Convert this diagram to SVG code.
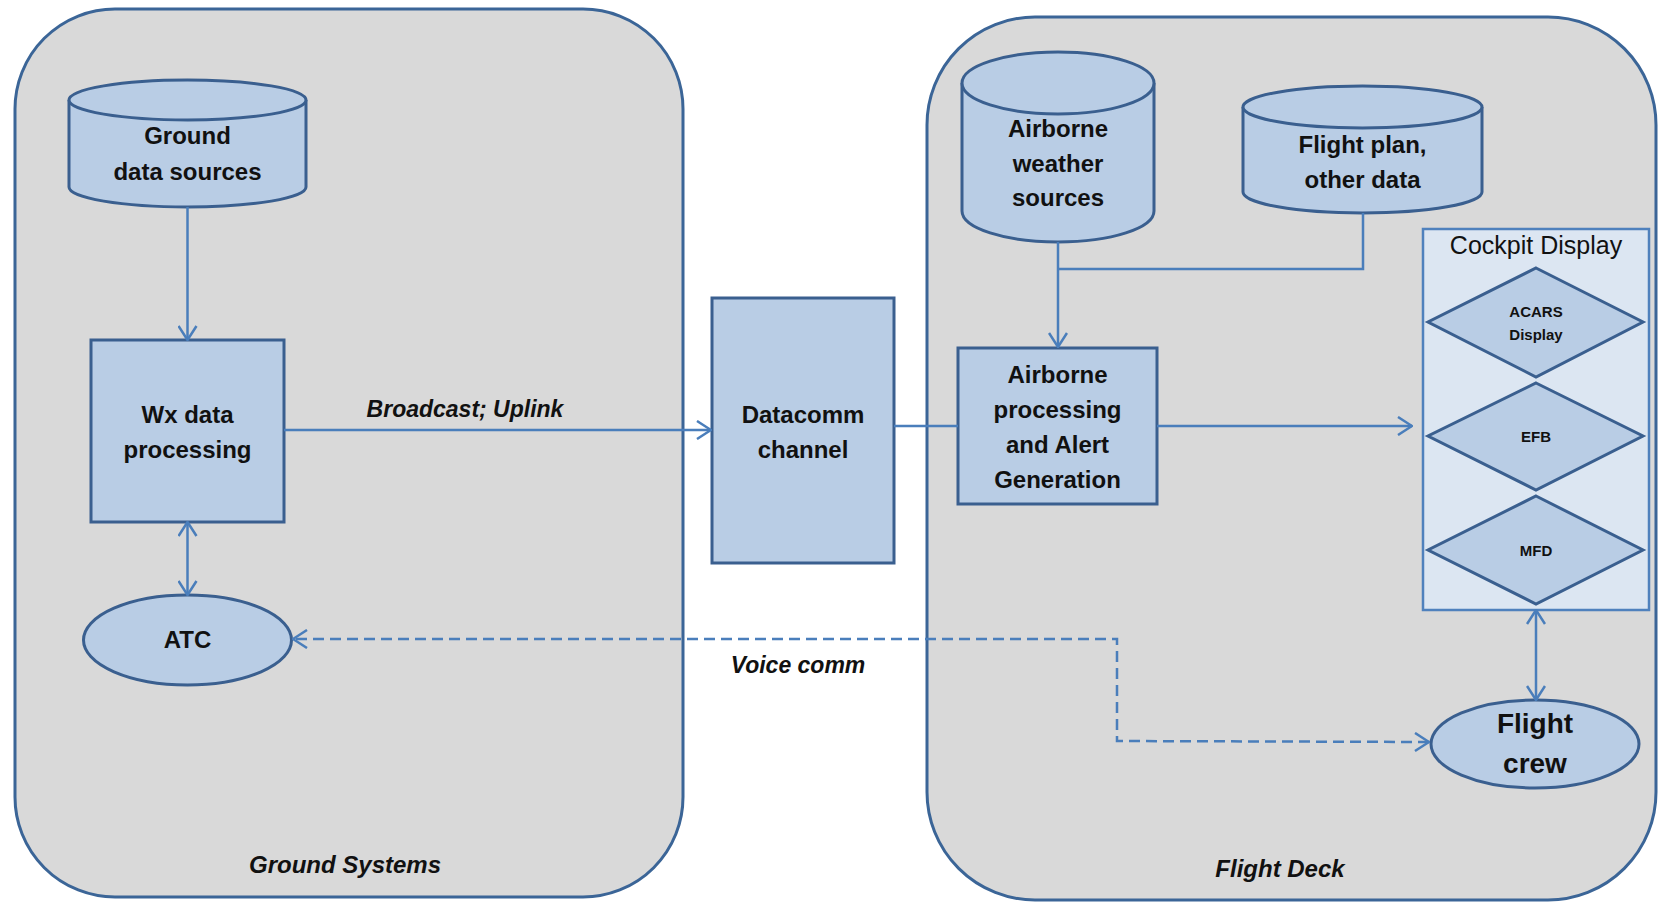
<svg xmlns="http://www.w3.org/2000/svg" width="1663" height="903" viewBox="0 0 1663 903">
<style>
.panel{fill:#d9d9d9;stroke:#3b6597;stroke-width:3}
.node{fill:#b9cde5;stroke:#3a5f8f;stroke-width:3}
.cont{fill:#dce6f2;stroke:#4f81bd;stroke-width:2.5}
.conn{fill:none;stroke:#4a7ebb;stroke-width:2.5}
.dash{stroke-dasharray:11 6}
text{font-family:"Liberation Sans",Arial,sans-serif;fill:#111;text-anchor:middle}
.lb{font-size:24px;font-weight:bold}
.it{font-size:24px;font-style:italic;font-weight:bold}
.it2{font-size:23px;font-style:italic;font-weight:bold}
.sm{font-size:15px;font-weight:bold}
</style>
<defs>
<marker id="arr" viewBox="0 0 16 20" refX="15" refY="10" markerWidth="16" markerHeight="20" markerUnits="userSpaceOnUse" orient="auto-start-reverse">
<path d="M1,1 L15,10 L1,19" fill="none" stroke="#4a7ebb" stroke-width="2.5"/>
</marker>
</defs>

<g id="ground-systems">
<rect class="panel" x="15" y="9" width="668" height="888" rx="100" ry="100"/>
<text class="it" x="345" y="873">Ground Systems</text>
</g>
<g id="flight-deck">
<rect class="panel" x="927" y="17" width="729" height="883" rx="108" ry="108"/>
<text class="it" x="1280" y="877">Flight Deck</text>
</g>

<g id="ground-data-sources">
<path class="node" d="M69,100 A118.5,20 0 0 1 306,100 L306,187 A118.5,20 0 0 1 69,187 Z"/>
<path class="node" d="M69,100 A118.5,20 0 0 0 306,100" fill="none"/>
<text class="lb" x="187.5" y="144">Ground</text>
<text class="lb" x="187.5" y="180">data sources</text>
</g>

<g id="wx-data-processing">
<rect class="node" x="91" y="340" width="193" height="182"/>
<text class="lb" x="187.5" y="423">Wx data</text>
<text class="lb" x="187.5" y="458">processing</text>
</g>

<g id="atc">
<ellipse class="node" cx="187.5" cy="640" rx="104" ry="45"/>
<text class="lb" x="187.5" y="648">ATC</text>
</g>

<g id="datacomm-channel">
<rect class="node" x="712" y="298" width="182" height="265"/>
<text class="lb" x="803" y="423">Datacomm</text>
<text class="lb" x="803" y="458">channel</text>
</g>

<g id="airborne-weather-sources">
<path class="node" d="M962,83 A96,31 0 0 1 1154,83 L1154,211 A96,31 0 0 1 962,211 Z"/>
<path class="node" d="M962,83 A96,31 0 0 0 1154,83" fill="none"/>
<text class="lb" x="1058" y="137">Airborne</text>
<text class="lb" x="1058" y="172">weather</text>
<text class="lb" x="1058" y="206">sources</text>
</g>

<g id="flight-plan">
<path class="node" d="M1243,107 A119.5,21 0 0 1 1482,107 L1482,192 A119.5,21 0 0 1 1243,192 Z"/>
<path class="node" d="M1243,107 A119.5,21 0 0 0 1482,107" fill="none"/>
<text class="lb" x="1362.5" y="153">Flight plan,</text>
<text class="lb" x="1362.5" y="188">other data</text>
</g>

<g id="airborne-processing">
<rect class="node" x="958" y="348" width="199" height="156"/>
<text class="lb" x="1057.5" y="383">Airborne</text>
<text class="lb" x="1057.5" y="418">processing</text>
<text class="lb" x="1057.5" y="453">and Alert</text>
<text class="lb" x="1057.5" y="488">Generation</text>
</g>

<g id="cockpit-display">
<rect class="cont" x="1423" y="229" width="226" height="381"/>
<text x="1536" y="254" style="font-size:25px">Cockpit Display</text>
</g>
<g id="acars-display">
<polygon class="node" points="1536,268 1643,322 1536,377 1428,322"/>
<text class="sm" x="1536" y="317">ACARS</text>
<text class="sm" x="1536" y="340">Display</text>
</g>
<g id="efb">
<polygon class="node" points="1536,383 1643,436 1536,490 1428,436"/>
<text class="sm" x="1536" y="442">EFB</text>
</g>
<g id="mfd">
<polygon class="node" points="1536,496 1643,550 1536,604 1428,550"/>
<text class="sm" x="1536" y="556">MFD</text>
</g>

<g id="flight-crew">
<ellipse class="node" cx="1535" cy="744" rx="104" ry="44"/>
<text x="1535" y="733" style="font-size:28px;font-weight:bold">Flight</text>
<text x="1535" y="773" style="font-size:28px;font-weight:bold">crew</text>
</g>

<g id="connectors">
<path class="conn" d="M187.5,207 L187.5,340" marker-end="url(#arr)"/>
<path class="conn" d="M187.5,522 L187.5,595" marker-start="url(#arr)" marker-end="url(#arr)"/>
<path class="conn" d="M284,430 L711,430" marker-end="url(#arr)"/>
<text class="it2" x="465" y="417">Broadcast; Uplink</text>
<path class="conn" d="M894,426 L958,426"/>
<path class="conn" d="M1058,242 L1058,347" marker-end="url(#arr)"/>
<path class="conn" d="M1363,213 L1363,269 L1058,269"/>
<path class="conn" d="M1157,426 L1412,426" marker-end="url(#arr)"/>
<path class="conn" d="M1536,610 L1536,700" marker-start="url(#arr)" marker-end="url(#arr)"/>
<path class="conn dash" d="M1429,742 L1117,741 L1117,639 L293,639" marker-start="url(#arr)" marker-end="url(#arr)"/>
<text class="it2" x="798" y="673">Voice comm</text>
</g>
</svg>
